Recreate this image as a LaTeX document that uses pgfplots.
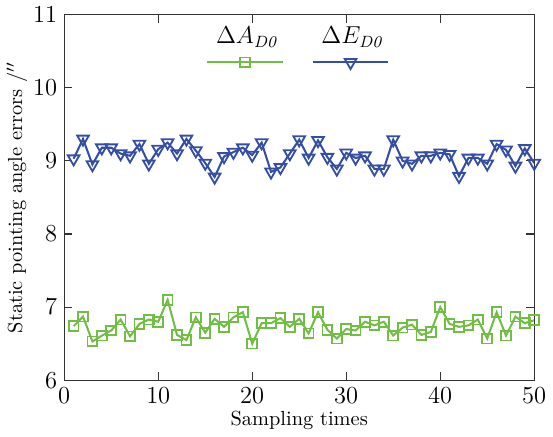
\documentclass[border=0pt]{standalone}
\usepackage{pgfplots}
\pgfplotsset{compat=1.18}
\definecolor{agreen}{RGB}{112,190,68}
\definecolor{eblue}{RGB}{52,78,164}

\pgfplotstableread{
x   dA    dE
1   6.74  9.03
2   6.87  9.30
3   6.53  8.95
4   6.61  9.18
5   6.68  9.18
6   6.83  9.10
7   6.60  9.07
8   6.77  9.23
9   6.83  8.96
10  6.80  9.16
11  7.10  9.25
12  6.62  9.10
13  6.55  9.30
14  6.86  9.14
15  6.65  8.97
16  6.84  8.78
17  6.73  9.06
18  6.86  9.12
19  6.93  9.18
20  6.50  9.08
21  6.78  9.25
22  6.78  8.85
23  6.85  8.91
24  6.73  9.10
25  6.84  9.29
26  6.64  9.04
27  6.93  9.28
28  6.69  9.05
29  6.57  8.89
30  6.70  9.11
31  6.68  9.04
32  6.80  9.07
33  6.75  8.89
34  6.80  8.89
35  6.61  9.29
36  6.72  9.00
37  6.76  8.96
38  6.62  9.07
39  6.66  9.07
40  7.00  9.11
41  6.77  9.09
42  6.73  8.79
43  6.75  9.04
44  6.83  9.04
45  6.57  8.96
46  6.93  9.23
47  6.61  9.15
48  6.87  8.93
49  6.78  9.17
50  6.82  8.97
}\datatable

\begin{document}
\begin{tikzpicture}
\begin{axis}[
  scale only axis,
  width=8.1cm, height=6.3cm,
  xmin=0, xmax=50, ymin=6, ymax=11,
  xtick={0,10,...,50}, ytick={6,7,...,11},
  tick align=inside,
  major tick length=4pt,
  axis line style={black!80, line width=0.6pt},
  tick style={black!80, line width=0.5pt},
  tick label style={font=\large},
  label style={font=\normalsize},
  xlabel={Sampling times},
  ylabel={Static pointing angle errors /$''$},
  xlabel style={yshift=3pt},
  ylabel style={yshift=-4pt},
  legend columns=2,
  legend style={draw=none, fill=none, at={(0.5,0.99)}, anchor=north,
    font=\large, /tikz/every even column/.append style={column sep=0.55cm}},
  legend image code/.code={
    \draw[mark repeat=2, mark phase=2, #1, overlay]
      plot coordinates {(-0.06cm,-0.44cm) (0.59cm,-0.44cm) (1.24cm,-0.44cm)};
    \path (0,0);
  },
]
\addplot[agreen, line width=1pt, mark=square, mark size=2.4pt,
  mark options={solid, line width=0.9pt, fill=none}]
  table[x=x, y=dA] {\datatable};
\addlegendentry{$\Delta A_{\mathit{D0}}$}
\addplot[eblue, line width=1pt, mark=triangle, mark size=3.3pt,
  mark options={solid, rotate=180, line width=0.9pt, fill=none}]
  table[x=x, y=dE] {\datatable};
\addlegendentry{$\Delta E_{\mathit{D0}}$}
\end{axis}
\end{tikzpicture}
\end{document}
